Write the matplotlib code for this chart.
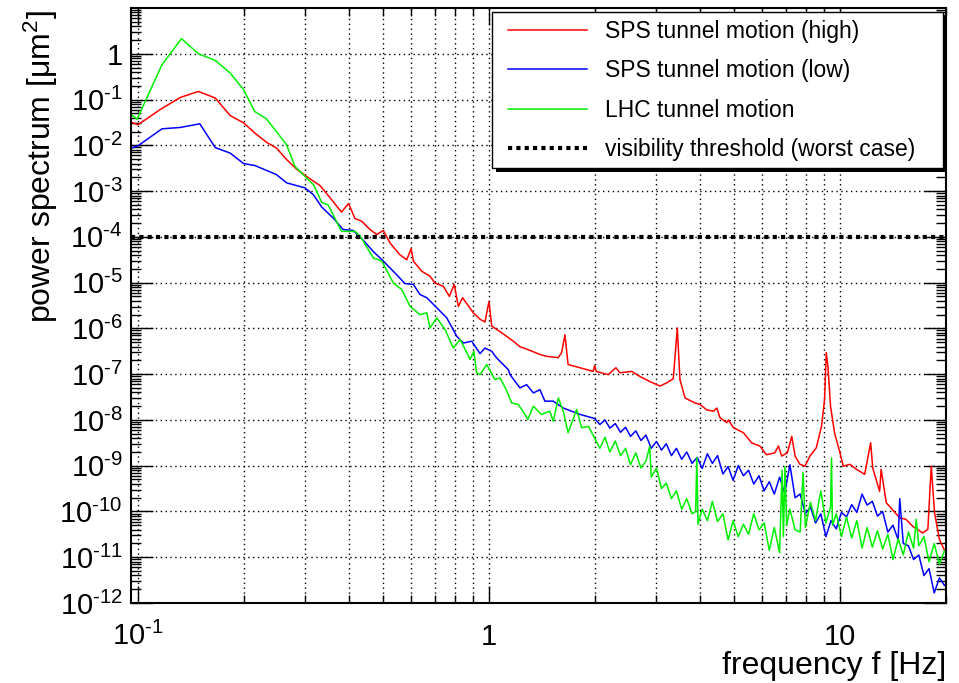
import numpy as np
import matplotlib
matplotlib.use("Agg")
import matplotlib.pyplot as plt
from matplotlib.lines import Line2D
from matplotlib.patches import Rectangle
from matplotlib.ticker import LogLocator, NullFormatter

plt.rcParams['font.family'] = ['Liberation Sans', 'DejaVu Sans']
plt.rcParams['mathtext.fontset'] = 'custom'
plt.rcParams['mathtext.rm'] = 'Liberation Sans'
plt.rcParams['mathtext.it'] = 'Liberation Sans:italic'
plt.rcParams['mathtext.bf'] = 'Liberation Sans:bold'

# ========== data (log10 of power in um^2) ==========
f_high = [0.0959, 0.100, 0.1156, 0.132, 0.1486, 0.166, 0.183, 0.200, 0.215, 0.233,
          0.248, 0.265, 0.283, 0.306, 0.330, 0.353, 0.380, 0.398, 0.415, 0.434,
          0.458, 0.479, 0.500, 0.522, 0.557, 0.583, 0.600, 0.609, 0.643, 0.679,
          0.702, 0.741, 0.771, 0.796, 0.818, 0.841, 0.902, 0.943, 0.974, 1.000,
          1.018, 1.098, 1.173, 1.225, 1.308, 1.397, 1.46, 1.575, 1.61, 1.646,
          1.68, 1.817, 1.98, 2.00, 2.02, 2.186, 2.30, 2.36, 2.55, 2.69,
          2.87, 3.07, 3.21, 3.35, 3.44, 3.50, 3.62, 3.86, 3.99, 4.17,
          4.36, 4.46, 4.55, 4.76, 4.81, 4.97, 5.31, 5.60, 5.91, 6.17,
          6.52, 6.68, 6.82, 7.08, 7.29, 7.45, 7.69, 7.95, 8.21, 8.56,
          8.86, 9.04, 9.14, 9.24, 9.40, 9.65, 10.0, 10.22, 10.68, 11.15,
          11.76, 12.23, 12.4, 12.97, 13.1, 13.55, 14.8, 15.4, 16.1, 17.2,
          17.8, 18.2, 18.6, 19.2, 19.8, 20.2]
lp_high = [-1.50, -1.55, -1.22, -0.954, -0.823, -0.967, -1.35, -1.51, -1.73, -1.94,
           -2.06, -2.31, -2.52, -2.71, -2.88, -3.15, -3.46, -3.27, -3.60, -3.66,
           -3.84, -3.95, -3.86, -4.13, -4.39, -4.50, -4.26, -4.53, -4.75, -4.86,
           -5.01, -5.08, -5.30, -5.04, -5.52, -5.33, -5.66, -5.80, -5.86, -5.41,
           -5.95, -6.12, -6.28, -6.40, -6.48, -6.57, -6.61, -6.64, -6.53, -6.14,
           -6.79, -6.86, -6.94, -6.81, -6.94, -7.01, -6.86, -6.97, -6.94, -7.05,
           -7.16, -7.26, -7.19, -7.10, -5.99, -7.12, -7.52, -7.63, -7.66, -7.78,
           -7.81, -7.74, -7.95, -8.06, -8.00, -8.17, -8.28, -8.50, -8.57, -8.76,
           -8.72, -8.57, -8.79, -8.72, -8.36, -8.79, -8.97, -9.01, -8.79, -8.61,
           -8.14, -7.55, -6.53, -6.83, -7.70, -8.28, -8.72, -9.01, -8.97, -9.08,
           -9.19, -8.50, -9.05, -9.56, -9.08, -9.81, -10.14, -10.17, -10.32, -10.47,
           -10.39, -9.01, -10.03, -10.61, -10.83, -10.90]

f_low = [0.0959, 0.100, 0.117, 0.132, 0.150, 0.166, 0.183, 0.200, 0.215, 0.248,
         0.265, 0.299, 0.316, 0.334, 0.352, 0.360, 0.384, 0.410, 0.439, 0.468,
         0.500, 0.546, 0.576, 0.609, 0.636, 0.665, 0.710, 0.758, 0.809, 0.845,
         0.893, 0.943, 0.974, 1.018, 1.05, 1.075, 1.135, 1.148, 1.225, 1.28,
         1.338, 1.397, 1.443, 1.524, 1.628, 1.72, 1.817, 1.898,
         2.0, 2.07, 2.14, 2.21, 2.29, 2.37, 2.45, 2.53, 2.62, 2.71,
         2.8, 2.9, 3.0, 3.1, 3.2, 3.31, 3.42, 3.54, 3.66, 3.79,
         3.92, 4.05, 4.19, 4.33, 4.48, 4.64, 4.8, 4.96, 5.13, 5.31,
         5.49, 5.68, 5.88, 6.08, 6.29, 6.5, 6.73, 6.96, 7.2, 7.45,
         7.7, 7.97, 8.24, 8.52, 8.82, 9.12, 9.43, 9.76, 10.1, 10.44,
         10.8, 11.17, 11.56, 11.95, 12.37, 12.79, 13.23, 13.69, 14.16, 14.65,
         14.8, 15.15, 15.67, 16.21, 16.77, 17.35, 17.94, 18.56, 19.2, 19.86,
         20.2]
lp_low = [-2.06, -2.01, -1.64, -1.61, -1.53, -2.05, -2.17, -2.40, -2.44, -2.64,
          -2.82, -2.93, -3.08, -3.35, -3.52, -3.59, -3.84, -3.86, -4.08, -4.32,
          -4.53, -4.83, -5.02, -5.04, -5.26, -5.33, -5.55, -5.77, -6.17, -6.32,
          -6.28, -6.55, -6.43, -6.50, -6.64, -6.72, -6.90, -7.01, -7.30, -7.23,
          -7.41, -7.34, -7.59, -7.59, -7.74, -7.81, -7.88, -7.92,
          -7.97, -8.10, -8.00, -8.18, -8.08, -8.27, -8.16, -8.36, -8.24, -8.45,
          -8.33, -8.62, -8.47, -8.66, -8.52, -8.78, -8.62, -8.86, -8.70, -8.95,
          -8.82, -9.06, -8.74, -8.95, -8.78, -9.18, -9.02, -9.32, -9.00, -9.22,
          -9.10, -9.40, -9.22, -9.55, -9.35, -9.62, -9.25, -9.60, -8.98, -9.70,
          -9.62, -10.05, -9.90, -10.25, -10.05, -10.55, -10.20, -10.38, -10.02, -10.12,
          -9.85, -10.02, -9.62, -9.86, -9.78, -10.10, -10.00, -10.45, -10.30, -10.62,
          -9.72, -10.70, -10.75, -11.05, -10.95, -11.40, -11.25, -11.78, -11.45, -11.62,
          -11.55]

f_lhc = [0.0959, 0.0994, 0.117, 0.133, 0.1486, 0.166, 0.183, 0.200, 0.215, 0.232,
         0.248, 0.265, 0.280, 0.299, 0.316, 0.334, 0.348, 0.380, 0.415, 0.43,
         0.468, 0.495, 0.534, 0.564, 0.596, 0.636, 0.665, 0.679, 0.710, 0.750,
         0.791, 0.827, 0.855, 0.883, 0.906, 0.922, 0.943, 0.985, 1.04, 1.075,
         1.12, 1.16, 1.21, 1.25, 1.29, 1.338, 1.41, 1.49, 1.524, 1.576,
         1.628, 1.68, 1.777, 1.837, 1.92,
         2.0, 2.07, 2.14, 2.21, 2.29, 2.37, 2.45, 2.53, 2.62, 2.71,
         2.8, 2.87, 2.9, 3.0, 3.1, 3.2, 3.31, 3.42, 3.54, 3.66,
         3.79, 3.88, 3.91, 3.94, 4.05, 4.19, 4.33, 4.48, 4.64, 4.8,
         4.96, 5.13, 5.31, 5.49, 5.68, 5.88, 6.08, 6.29, 6.5, 6.73,
         6.84, 6.90, 6.97, 7.05, 7.2, 7.45, 7.7, 7.85, 7.97, 8.24,
         8.52, 8.82, 9.12, 9.40, 9.46, 9.52, 9.76, 10.1, 10.44, 10.8,
         11.17, 11.56, 11.95, 12.37, 12.79, 13.23, 13.69, 14.16, 14.65, 15.15,
         15.67, 16.21, 16.5, 16.77, 17.35, 17.94, 18.56, 19.2, 19.86, 20.2]
lp_lhc = [-1.33, -1.43, -0.24, 0.33, 0.0, -0.146, -0.42, -0.786, -1.26, -1.42,
          -1.70, -1.99, -2.46, -2.68, -2.86, -3.25, -3.30, -3.88, -3.88, -3.99,
          -4.46, -4.53, -5.01, -5.15, -5.52, -5.70, -5.66, -5.99, -5.77, -6.03,
          -6.43, -6.24, -6.46, -6.68, -6.50, -6.97, -7.01, -6.79, -7.12, -7.08,
          -7.34, -7.63, -7.66, -7.81, -7.99, -7.70, -7.88, -7.81, -8.03, -7.52,
          -7.81, -8.28, -7.77, -8.17, -8.14,
          -8.40, -8.62, -8.38, -8.70, -8.46, -8.78, -8.62, -8.98, -8.72, -9.05,
          -8.90, -8.58, -9.25, -9.05, -9.50, -9.38, -9.72, -9.55, -9.95, -9.72,
          -10.05, -10.00, -8.82, -10.28, -9.95, -10.20, -9.78, -10.22, -10.05, -10.62,
          -10.20, -10.55, -10.28, -10.50, -10.05, -10.40, -10.25, -10.85, -10.35, -10.90,
          -9.10, -10.55, -9.02, -10.30, -9.95, -10.40, -10.45, -9.15, -10.35, -9.80,
          -10.20, -9.55, -10.25, -9.90, -8.83, -10.30, -10.05, -10.55, -10.12, -10.58,
          -10.20, -10.80, -10.35, -10.78, -10.42, -10.82, -10.50, -11.05, -10.60, -10.95,
          -10.45, -10.80, -10.17, -10.75, -10.55, -11.10, -10.70, -11.15, -10.85, -11.00]

threshold = 1e-4

series_labels = ["SPS tunnel motion (high)", "SPS tunnel motion (low)",
                 "LHC tunnel motion", "visibility threshold (worst case)"]
series_colors = ["#ff0000", "#0000ff", "#00f000"]

xtick_vals = [0.1, 1, 10]
xtick_labels = [r"$10^{\text{-}1}$", "1", "10"]
ytick_exps = list(range(0, -13, -1))
ytick_labels = ["1" if e == 0 else r"$10^{\text{-}%d}$" % abs(e) for e in ytick_exps]

# ========== figure ==========
fig = plt.figure(figsize=(9.59, 6.83), dpi=100)
ax = fig.add_axes([131 / 959, 1 - 603 / 683, 815 / 959, 595 / 683])
ax.set_xscale('log')
ax.set_yscale('log')

ax.plot(f_high, 10.0 ** np.array(lp_high), color=series_colors[0], lw=1.1, zorder=2)
ax.plot(f_low, 10.0 ** np.array(lp_low), color=series_colors[1], lw=1.1, zorder=2)
ax.plot(f_lhc, 10.0 ** np.array(lp_lhc), color=series_colors[2], lw=1.1, zorder=2)
ax.axhline(threshold, color='k', lw=3, ls=(0, (1, 1)), zorder=3)

ax.set_xlim(0.0955, 20.05)
ax.set_ylim(1e-12, 10)

ax.set_xticks(xtick_vals, xtick_labels)
ax.set_yticks([10.0 ** e for e in ytick_exps], ytick_labels)
ax.xaxis.set_minor_locator(LogLocator(base=10, subs=np.arange(2, 10), numticks=100))
ax.yaxis.set_minor_locator(LogLocator(base=10, subs=np.arange(2, 10), numticks=100))
ax.xaxis.set_minor_formatter(NullFormatter())
ax.yaxis.set_minor_formatter(NullFormatter())

ax.tick_params(which='both', direction='in', top=True, right=True, labelsize=21, width=1)
ax.tick_params(axis='y', which='major', length=16, pad=6)
ax.tick_params(axis='y', which='minor', length=7)
ax.tick_params(axis='x', which='major', length=12, pad=30)
ax.tick_params(axis='x', which='minor', length=6)
for lbl in ax.get_xticklabels():
    lbl.set_verticalalignment('baseline')

for sp in ax.spines.values():
    sp.set_linewidth(1.5)

ax.set_axisbelow(True)
ax.grid(True, which='major', axis='y', ls=(0, (1, 2.5)), color='k', lw=1.0)
ax.grid(True, which='both', axis='x', ls=(0, (1, 2.5)), color='k', lw=1.0)

ax.set_xlabel("frequency f [Hz]", fontsize=23, loc='right')
ax.xaxis.set_label_coords(1.0, -0.080)
ax.set_ylabel("power spectrum [μm$^2$]", fontsize=23, loc='top')
ax.yaxis.set_label_coords(-0.087, 0.997)

# legend box with a solid drop shadow, ROOT style
ax.add_patch(Rectangle((0.443 + 0.0049, 0.731 - 0.0067), 0.5533, 0.2623, transform=ax.transAxes,
                       facecolor='k', edgecolor='none', clip_on=False, zorder=4))
ax.add_patch(Rectangle((0.443, 0.731), 0.5533, 0.2623, transform=ax.transAxes,
                       facecolor='white', edgecolor='k', lw=1.0, clip_on=False, zorder=4.5))

handles = [Line2D([], [], color=series_colors[0], lw=1.1),
           Line2D([], [], color=series_colors[1], lw=1.1),
           Line2D([], [], color=series_colors[2], lw=1.1),
           Line2D([], [], color='k', lw=3, ls=(0, (1, 1)))]
leg = ax.legend(handles, series_labels, loc='upper left', bbox_to_anchor=(0.4626, 0.980),
                borderaxespad=0, borderpad=0, fontsize=16.5, frameon=False,
                handlelength=3.45, handletextpad=0.8, labelspacing=0.72)
leg.set_zorder(6)

fig.savefig("out.png", dpi=100)
